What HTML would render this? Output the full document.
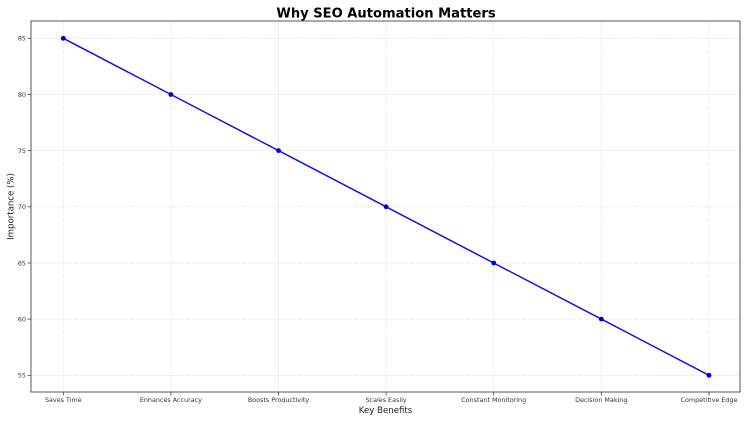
<!DOCTYPE html>
<html><head><meta charset="utf-8"><style>
html,body{margin:0;padding:0;background:#fff;}
svg{display:block;}
text{font-family:"DejaVu Sans","Liberation Sans",sans-serif;}
</style></head><body>
<svg width="750" height="422" viewBox="0 0 750 422" xmlns="http://www.w3.org/2000/svg">
<rect width="750" height="422" fill="#fff"/>
<!-- grid -->
<g stroke="#e9e9e9" stroke-width="0.8" stroke-dasharray="6,1">
<line x1="63.3" y1="21" x2="63.3" y2="392"/>
<line x1="170.9" y1="21" x2="170.9" y2="392"/>
<line x1="278.5" y1="21" x2="278.5" y2="392"/>
<line x1="386.1" y1="21" x2="386.1" y2="392"/>
<line x1="493.7" y1="21" x2="493.7" y2="392"/>
<line x1="601.3" y1="21" x2="601.3" y2="392"/>
<line x1="709" y1="21" x2="709" y2="392"/>
<line x1="31" y1="38.3" x2="740" y2="38.3"/>
<line x1="31" y1="94.5" x2="740" y2="94.5"/>
<line x1="31" y1="150.6" x2="740" y2="150.6"/>
<line x1="31" y1="206.8" x2="740" y2="206.8"/>
<line x1="31" y1="263" x2="740" y2="263"/>
<line x1="31" y1="319.1" x2="740" y2="319.1"/>
<line x1="31" y1="375.3" x2="740" y2="375.3"/>
</g>
<!-- axes frame -->
<rect x="31" y="21" width="709" height="371" fill="none" stroke="#444" stroke-width="0.9"/>
<!-- ticks -->
<g stroke="#444" stroke-width="0.8">
<line x1="27.5" y1="38.3" x2="31" y2="38.3"/>
<line x1="27.5" y1="94.5" x2="31" y2="94.5"/>
<line x1="27.5" y1="150.6" x2="31" y2="150.6"/>
<line x1="27.5" y1="206.8" x2="31" y2="206.8"/>
<line x1="27.5" y1="263" x2="31" y2="263"/>
<line x1="27.5" y1="319.1" x2="31" y2="319.1"/>
<line x1="27.5" y1="375.3" x2="31" y2="375.3"/>
<line x1="63.3" y1="392" x2="63.3" y2="395.5"/>
<line x1="170.9" y1="392" x2="170.9" y2="395.5"/>
<line x1="278.5" y1="392" x2="278.5" y2="395.5"/>
<line x1="386.1" y1="392" x2="386.1" y2="395.5"/>
<line x1="493.7" y1="392" x2="493.7" y2="395.5"/>
<line x1="601.3" y1="392" x2="601.3" y2="395.5"/>
<line x1="709" y1="392" x2="709" y2="395.5"/>
</g>
<!-- y tick labels -->
<g font-size="6.4" fill="#333" text-anchor="end">
<text x="26" y="40.6">85</text>
<text x="26" y="96.8">80</text>
<text x="26" y="152.9">75</text>
<text x="26" y="209.1">70</text>
<text x="26" y="265.3">65</text>
<text x="26" y="321.4">60</text>
<text x="26" y="377.6">55</text>
</g>
<!-- x tick labels -->
<g font-size="6.4" fill="#333" text-anchor="middle">
<text x="63.3" y="402">Saves Time</text>
<text x="170.9" y="402">Enhances Accuracy</text>
<text x="278.5" y="402">Boosts Productivity</text>
<text x="386.1" y="402">Scales Easily</text>
<text x="493.7" y="402">Constant Monitoring</text>
<text x="601.3" y="402">Decision Making</text>
<text x="709" y="402">Competitive Edge</text>
</g>
<!-- axis labels -->
<text x="385.5" y="413" font-size="8.6" fill="#222" text-anchor="middle">Key Benefits</text>
<text transform="translate(13.5,206.5) rotate(-90)" font-size="8.6" fill="#222" text-anchor="middle">Importance (%)</text>
<!-- title -->
<text x="386" y="17.5" font-size="13.1" font-weight="bold" fill="#000" text-anchor="middle">Why SEO Automation Matters</text>
<!-- series -->
<polyline points="63.3,38.3 170.9,94.5 278.5,150.6 386.1,206.8 493.7,263 601.3,319.1 709,375.3" fill="none" stroke="#1515d6" stroke-width="1.5"/>
<g fill="#0000d0">
<circle cx="63.3" cy="38.3" r="2.4"/>
<circle cx="170.9" cy="94.5" r="2.4"/>
<circle cx="278.5" cy="150.6" r="2.4"/>
<circle cx="386.1" cy="206.8" r="2.4"/>
<circle cx="493.7" cy="263" r="2.4"/>
<circle cx="601.3" cy="319.1" r="2.4"/>
<circle cx="709" cy="375.3" r="2.4"/>
</g>
</svg>
</body></html>
